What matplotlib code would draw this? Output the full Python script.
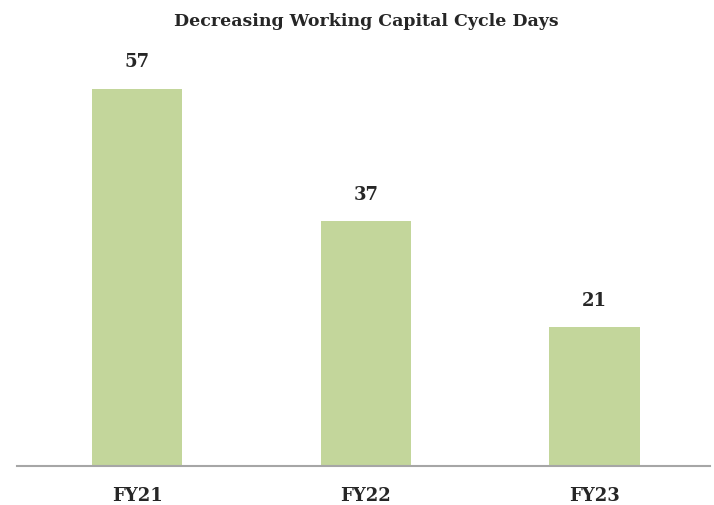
import matplotlib
matplotlib.use("Agg")
import matplotlib.pyplot as plt

categories = ["FY21", "FY22", "FY23"]
values = [57, 37, 21]

bar_color = "#c3d69b"
font = ["DejaVu Serif"]

fig = plt.figure(figsize=(7.14, 5.05), dpi=100)
W, H = 714, 505
left, right = 17, 710
bottom_px, top_px = 466, 42.3
ax = fig.add_axes([left / W, 1 - bottom_px / H, (right - left) / W, (bottom_px - top_px) / H])

x = range(len(categories))
ax.bar(x, values, width=0.394, color=bar_color, zorder=2)
ax.set_xlim(-0.525, 2.505)
ax.set_ylim(0, 64)

for xi, v in zip(x, values):
    ax.annotate(str(v), (xi, v), xytext=(0, 19), textcoords="offset points",
                ha="center", va="center", fontsize=13, fontweight="bold",
                family=font, color="#262626")

ax.set_xticks(list(x))
ax.set_xticklabels(categories, family=font, fontweight="bold", fontsize=13, color="#262626")
ax.tick_params(axis="x", length=0, pad=15)
ax.set_yticks([])
for s in ["top", "right", "left"]:
    ax.spines[s].set_visible(False)
ax.spines["bottom"].set_color("#a6a6a6")
ax.spines["bottom"].set_linewidth(1.5)

fig.text(366 / W, 1 - 22 / H, "Decreasing Working Capital Cycle Days", ha="center", va="center",
         family=font, fontweight="bold", fontsize=12.5, color="#262626")

fig.savefig("out.png", dpi=100)
